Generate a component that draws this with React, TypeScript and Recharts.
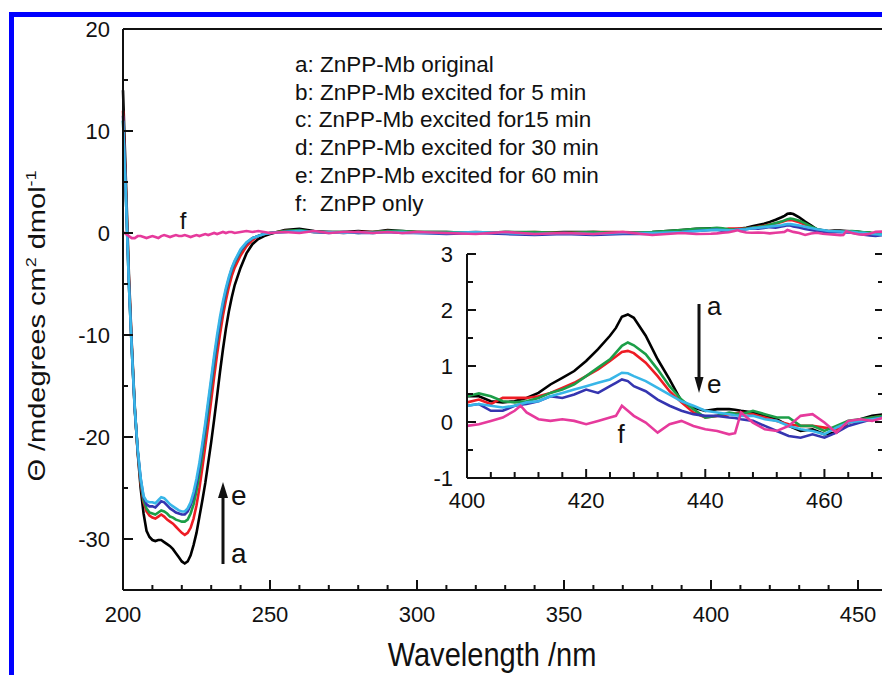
import React from 'react';
import { LineChart, Line, XAxis, YAxis, ReferenceLine } from 'recharts';

// ---------- data ----------
const mainNm = [200,201,202,203,204,205,206,207,208,209,210,211,212,213,214,215,216,217,218,219,220,221,222,223,224,225,226,227,228,229,230,231,232,233,234,235,236,237,238,240,242,244,246,248,250,255,260,265,270,275,280,285,290,295,300,310,320,330,340,350,360,370,380,390,395];
const mainA = [14,5,-4,-11,-17,-21.5,-25,-27.5,-29.2,-29.8,-30.1,-30.2,-30.1,-30.1,-30.3,-30.5,-30.7,-31.0,-31.4,-31.8,-32.2,-32.4,-32.2,-31.6,-30.6,-29.4,-27.8,-26.2,-24.5,-22.5,-20.5,-18.3,-16.0,-13.6,-11.4,-9.4,-7.7,-6.3,-5.1,-3.4,-2.0,-1.1,-0.6,-0.3,-0.1,0.3,0.4,0.2,0.1,0.1,0.2,0.1,0.3,0.2,0.1,0.1,0.0,0.1,0.0,0.1,0.1,0.0,0.1,0.3,0.4];
const mainB = [12,4,-4.5,-11.2,-17.2,-21.5,-24.5,-26.4,-27.3,-27.7,-27.9,-28.0,-27.8,-27.6,-27.8,-28.1,-28.3,-28.5,-28.8,-29.1,-29.4,-29.6,-29.4,-28.9,-28.0,-26.7,-25.0,-23.0,-20.9,-18.7,-16.4,-14.1,-11.9,-9.9,-8.1,-6.6,-5.3,-4.2,-3.4,-2.2,-1.3,-0.7,-0.3,-0.1,0.0,0.2,0.2,0.1,0.1,0.0,0.1,0.1,0.2,0.1,0.1,0.0,0.1,0.0,0.1,0.0,0.1,0.1,0.0,0.2,0.3];
const mainC = [11,3.5,-5,-11.5,-17.3,-21.4,-24.3,-26.2,-27.0,-27.4,-27.5,-27.6,-27.4,-27.2,-27.3,-27.5,-27.8,-27.9,-28.1,-28.2,-28.3,-28.3,-28.1,-27.5,-26.6,-25.3,-23.6,-21.6,-19.5,-17.3,-15.0,-12.8,-10.7,-8.8,-7.2,-5.8,-4.6,-3.6,-2.9,-1.8,-1.0,-0.5,-0.3,-0.1,0.0,0.2,0.3,0.1,0.1,0.1,0.0,0.1,0.2,0.2,0.1,0.1,0.0,0.1,0.1,0.0,0.1,0.0,0.1,0.3,0.4];
const mainD = [11.5,3.5,-5,-11.5,-17.3,-21.3,-24.1,-25.9,-26.6,-26.8,-26.8,-26.9,-26.6,-26.3,-26.4,-26.7,-27.0,-27.2,-27.4,-27.5,-27.6,-27.6,-27.3,-26.7,-25.8,-24.5,-22.9,-21.0,-19.0,-16.8,-14.6,-12.4,-10.4,-8.6,-7.0,-5.6,-4.5,-3.5,-2.8,-1.7,-1.0,-0.5,-0.3,-0.1,0.0,0.1,0.2,0.1,0.0,0.1,0.0,0.0,0.1,0.0,0.0,-0.1,0.0,-0.1,-0.2,-0.1,-0.2,-0.1,-0.1,0.1,0.2];
const mainE = [11,3.5,-5,-11.5,-17.2,-21.2,-24.0,-25.8,-26.3,-26.4,-26.4,-26.5,-26.2,-25.9,-26.0,-26.3,-26.6,-26.8,-27.0,-27.2,-27.3,-27.3,-27.0,-26.4,-25.4,-24.1,-22.5,-20.6,-18.6,-16.4,-14.2,-12.0,-10.0,-8.2,-6.7,-5.4,-4.3,-3.4,-2.7,-1.6,-0.9,-0.5,-0.3,-0.1,0.0,0.1,0.2,0.1,0.1,0.0,0.1,0.0,0.1,0.1,0.0,0.0,0.1,0.0,-0.1,0.0,-0.1,0.0,0.0,0.1,0.2];
const mainF = [0.1,-0.1,-0.3,-0.5,-0.5,-0.3,-0.3,-0.4,-0.5,-0.4,-0.3,-0.4,-0.5,-0.3,-0.2,-0.3,-0.4,-0.3,-0.2,-0.3,-0.3,-0.2,-0.3,-0.4,-0.3,-0.2,-0.3,-0.2,-0.1,-0.2,-0.1,0.0,-0.1,0.0,0.1,0.0,0.1,0.1,0.0,0.1,0.2,0.1,0.2,0.1,0.0,0.1,0.0,0.2,0.0,0.1,0.1,0.0,0.1,0.0,0.1,0.0,-0.1,0.1,-0.1,0.0,-0.1,0.1,-0.2,0.0,-0.1];

const insetNm = [400,402,404,406,408,409,410,412,414,416,418,420,422,424,425,426,427,428,430,432,434,436,438,440,442,444,445,446,448,450,452,454,456,458,460,462,464,466,468,470];
const insetA = [0.46,0.46,0.37,0.35,0.37,0.40,0.43,0.52,0.67,0.79,0.91,1.09,1.30,1.54,1.68,1.88,1.92,1.86,1.54,1.12,0.76,0.37,0.26,0.20,0.23,0.23,0.22,0.20,0.17,0.11,0.05,-0.07,-0.16,-0.13,-0.22,-0.19,-0.01,0.05,0.11,0.14];
const insetB = [0.35,0.40,0.32,0.43,0.43,0.43,0.43,0.46,0.52,0.61,0.70,0.82,0.94,1.09,1.17,1.25,1.27,1.23,1.06,0.82,0.55,0.35,0.17,0.08,0.11,0.14,0.15,0.17,0.14,0.08,0.02,-0.04,-0.07,-0.07,-0.10,-0.13,-0.01,0.02,0.08,0.11];
const insetC = [0.46,0.51,0.46,0.37,0.35,0.36,0.37,0.43,0.52,0.58,0.67,0.82,0.97,1.12,1.24,1.36,1.42,1.37,1.21,0.94,0.64,0.40,0.23,0.08,0.11,0.17,0.15,0.14,0.20,0.14,0.08,0.08,-0.07,-0.07,-0.16,-0.07,0.02,0.05,0.08,0.11];
const insetD = [0.29,0.32,0.20,0.20,0.29,0.31,0.32,0.37,0.46,0.43,0.49,0.58,0.52,0.64,0.70,0.76,0.73,0.64,0.55,0.40,0.29,0.20,0.14,0.11,0.11,0.08,0.07,0.05,0.02,-0.07,-0.16,-0.25,-0.28,-0.22,-0.28,-0.19,-0.07,-0.01,0.05,0.08];
const insetE = [0.29,0.32,0.29,0.26,0.29,0.32,0.35,0.37,0.46,0.52,0.58,0.64,0.70,0.76,0.82,0.88,0.87,0.82,0.73,0.61,0.49,0.37,0.29,0.20,0.17,0.14,0.12,0.11,0.11,0.05,0.02,-0.07,-0.13,-0.16,-0.22,-0.10,-0.01,0.02,0.05,0.08];
const insetF = [-0.07,-0.04,0.02,0.08,0.20,0.29,0.17,0.05,0.02,0.05,0.02,-0.04,0.02,0.08,0.11,0.29,0.20,0.11,-0.01,-0.19,-0.04,0.02,-0.07,-0.13,-0.16,-0.22,-0.20,0.17,-0.01,-0.13,-0.16,-0.07,0.11,0.14,-0.01,-0.19,0.02,0.05,0.02,0.08];

const legendLines = [
  'a: ZnPP-Mb original',
  'b: ZnPP-Mb excited for 5 min',
  'c: ZnPP-Mb excited for15 min',
  'd: ZnPP-Mb excited for 30 min',
  'e: ZnPP-Mb excited for 60 min',
  'f:  ZnPP only',
];

const mainXTicks = [200,210,220,230,240,250,260,270,280,290,300,310,320,330,340,350,360,370,380,390,400,410,420,430,440,450,460,470,480,490,500];
const mainYTicks = [-30,-25,-20,-15,-10,-5,0,5,10,15,20];
const insetXTicks = [400,404,408,412,416,420,424,428,432,436,440,444,448,452,456,460,464,468];
const insetYTicks = [-1,-0.5,0,0.5,1,1.5,2,2.5,3];

const seriesKeys = ['a','b','c','d','e','f'];
const colors: Record<string,string> = { a:'#000000', b:'#ee1c24', c:'#1c9e48', d:'#3535b0', e:'#38b6e8', f:'#e63a9c' };

const allNm = [...mainNm, ...insetNm];
const allSeries: Record<string, number[]> = {
  a: [...mainA, ...insetA], b: [...mainB, ...insetB], c: [...mainC, ...insetC],
  d: [...mainD, ...insetD], e: [...mainE, ...insetE], f: [...mainF, ...insetF],
};
const insetSeries: Record<string, number[]> = { a: insetA, b: insetB, c: insetC, d: insetD, e: insetE, f: insetF };

const mainData = allNm.map((x, i) => {
  const row: any = { x };
  seriesKeys.forEach(k => { row[k] = allSeries[k][i]; });
  return row;
});
const insetData = insetNm.map((x, i) => {
  const row: any = { x };
  seriesKeys.forEach(k => { row[k] = insetSeries[k][i]; });
  return row;
});

// ---------- styling ----------
const FONT = "'Liberation Sans', Arial, Helvetica, sans-serif";
const AX = '#111';

const isInt = (v: number) => Math.abs(v - Math.round(v)) < 1e-6;

const MainXTick = (p: any) => {
  const { x, y, payload } = p;
  const v = payload.value;
  const major = v % 50 === 0;
  return (
    <g>
      <line x1={x} x2={x} y1={y} y2={y - (major ? 10 : 5)} stroke={AX} strokeWidth={2} />
      {major && (
        <text x={x} y={y + 32} textAnchor="middle" fontSize={22} fontFamily={FONT} fill={AX}>{v}</text>
      )}
    </g>
  );
};
const MainYTick = (p: any) => {
  const { x, y, payload } = p;
  const v = payload.value;
  const major = v % 10 === 0;
  return (
    <g>
      <line x1={x} x2={x + (major ? 10 : 5)} y1={y} y2={y} stroke={AX} strokeWidth={2} />
      {major && (
        <text x={x - 13} y={y + 8} textAnchor="end" fontSize={22} fontFamily={FONT} fill={AX}>{v}</text>
      )}
    </g>
  );
};
const InsetXTick = (p: any) => {
  const { x, y, payload } = p;
  const v = payload.value;
  const major = v % 20 === 0;
  return (
    <g>
      <line x1={x} x2={x} y1={y} y2={y - (major ? 9 : 6)} stroke={AX} strokeWidth={2} />
      {major && (
        <text x={x} y={y + 30} textAnchor="middle" fontSize={22} fontFamily={FONT} fill={AX}>{v}</text>
      )}
    </g>
  );
};
const InsetTopTick = (p: any) => {
  const { x, y, payload } = p;
  const major = payload.value % 20 === 0;
  return <line x1={x} x2={x} y1={y} y2={y + (major ? 9 : 6)} stroke={AX} strokeWidth={2} />;
};
const InsetYTick = (p: any) => {
  const { x, y, payload } = p;
  const v = payload.value;
  const major = isInt(v);
  return (
    <g>
      <line x1={x} x2={x + (major ? 9 : 6)} y1={y} y2={y} stroke={AX} strokeWidth={2} />
      {major && (
        <text x={x - 14} y={y + 8} textAnchor="end" fontSize={22} fontFamily={FONT} fill={AX}>{v}</text>
      )}
    </g>
  );
};
const InsetRightTick = (p: any) => {
  const { x, y, payload } = p;
  const major = isInt(payload.value);
  return <line x1={x} x2={x - (major ? 9 : 6)} y1={y} y2={y} stroke={AX} strokeWidth={2} />;
};

const axisLineStyle = { stroke: AX, strokeWidth: 2 };

export default function App() {
  return (
    <div style={{ position: 'absolute', left: 0, top: 0, width: 882, height: 675, overflow: 'hidden', background: '#fff' }}>
      <div style={{ position: 'absolute', left: 9, top: 12, width: 2000, height: 2000, borderLeft: '5px solid #0000ff', borderTop: '5px solid #0000ff' }} />

      {/* main chart */}
      <div style={{ position: 'absolute', left: 0, top: 0 }}>
        <LineChart width={1010} height={675} data={mainData} margin={{ top: 29, right: 5, left: 0, bottom: 0 }}>
          <XAxis dataKey="x" type="number" domain={[200, 500]} ticks={mainXTicks} interval={0}
            height={85} tickSize={0} tickMargin={0} tickLine={false} axisLine={axisLineStyle} tick={MainXTick} />
          <YAxis type="number" domain={[-35, 20]} ticks={mainYTicks} interval={0}
            width={123} tickSize={0} tickMargin={0} tickLine={false} axisLine={axisLineStyle} tick={MainYTick} />
          <ReferenceLine y={20} stroke={AX} strokeWidth={2} />
          {seriesKeys.map(k => (
            <Line key={k} dataKey={k} type="linear" stroke={colors[k]} strokeWidth={2.6} dot={false} isAnimationActive={false} />
          ))}
        </LineChart>
      </div>

      {/* inset background */}
      <div style={{ position: 'absolute', left: 467, top: 254, width: 420, height: 224, background: '#fff' }} />

      {/* inset chart */}
      <div style={{ position: 'absolute', left: 400, top: 240 }}>
        <LineChart width={500} height={290} data={insetData} margin={{ top: 14, right: 0, left: 0, bottom: 0 }}>
          <XAxis dataKey="x" type="number" domain={[400, 470]} allowDataOverflow ticks={insetXTicks} interval={0}
            height={52} tickSize={0} tickMargin={0} tickLine={false} axisLine={axisLineStyle} tick={InsetXTick} />
          <XAxis xAxisId="top" orientation="top" dataKey="x" type="number" domain={[400, 470]} allowDataOverflow ticks={insetXTicks} interval={0}
            height={0} tickSize={0} tickMargin={0} tickLine={false} axisLine={axisLineStyle} tick={InsetTopTick} />
          <YAxis type="number" domain={[-1, 3]} allowDataOverflow ticks={insetYTicks} interval={0}
            width={67} tickSize={0} tickMargin={0} tickLine={false} axisLine={axisLineStyle} tick={InsetYTick} />
          <YAxis yAxisId="right" orientation="right" type="number" domain={[-1, 3]} allowDataOverflow ticks={insetYTicks} interval={0}
            width={16} tickSize={0} tickMargin={0} tickLine={false} axisLine={axisLineStyle} tick={InsetRightTick} />
          {seriesKeys.map(k => (
            <Line key={k} dataKey={k} type="linear" stroke={colors[k]} strokeWidth={2.6} dot={false} isAnimationActive={false} />
          ))}
        </LineChart>
      </div>

      {/* annotations */}
      <svg width={882} height={675} style={{ position: 'absolute', left: 0, top: 0, pointerEvents: 'none' }}>
        <g fontFamily={FONT} fill={AX}>
          {legendLines.map((t, i) => (
            <text key={i} x={295} y={72 + i * 27.7} fontSize={22.5} style={{ whiteSpace: 'pre' }}>{t}</text>
          ))}
          <text transform="translate(45,326) scale(0.85,1) rotate(-90)" textAnchor="middle" fontSize={29}>
            Θ /mdegrees cm<tspan dy={-11} fontSize={18}>2</tspan><tspan dy={11}> dmol</tspan><tspan dy={-11} fontSize={18}>-1</tspan>
          </text>
          <text transform="translate(492,666) scale(0.88,1)" textAnchor="middle" fontSize={33}>Wavelength /nm</text>

          <text x={183} y={229} textAnchor="middle" fontSize={24}>f</text>
          <line x1={223} x2={223} y1={564} y2={495} stroke={AX} strokeWidth={3} />
          <polygon points="223,482 218,498 228,498" fill={AX} />
          <text x={231} y={505} fontSize={28}>e</text>
          <text x={231} y={563} fontSize={28}>a</text>

          <line x1={699} x2={699} y1={304} y2={380} stroke={AX} strokeWidth={3} />
          <polygon points="699,393 694.5,377 703.5,377" fill={AX} />
          <text x={707} y={315} fontSize={26}>a</text>
          <text x={707} y={393} fontSize={26}>e</text>
          <text x={621} y={443} textAnchor="middle" fontSize={26}>f</text>
        </g>
      </svg>
    </div>
  );
}
